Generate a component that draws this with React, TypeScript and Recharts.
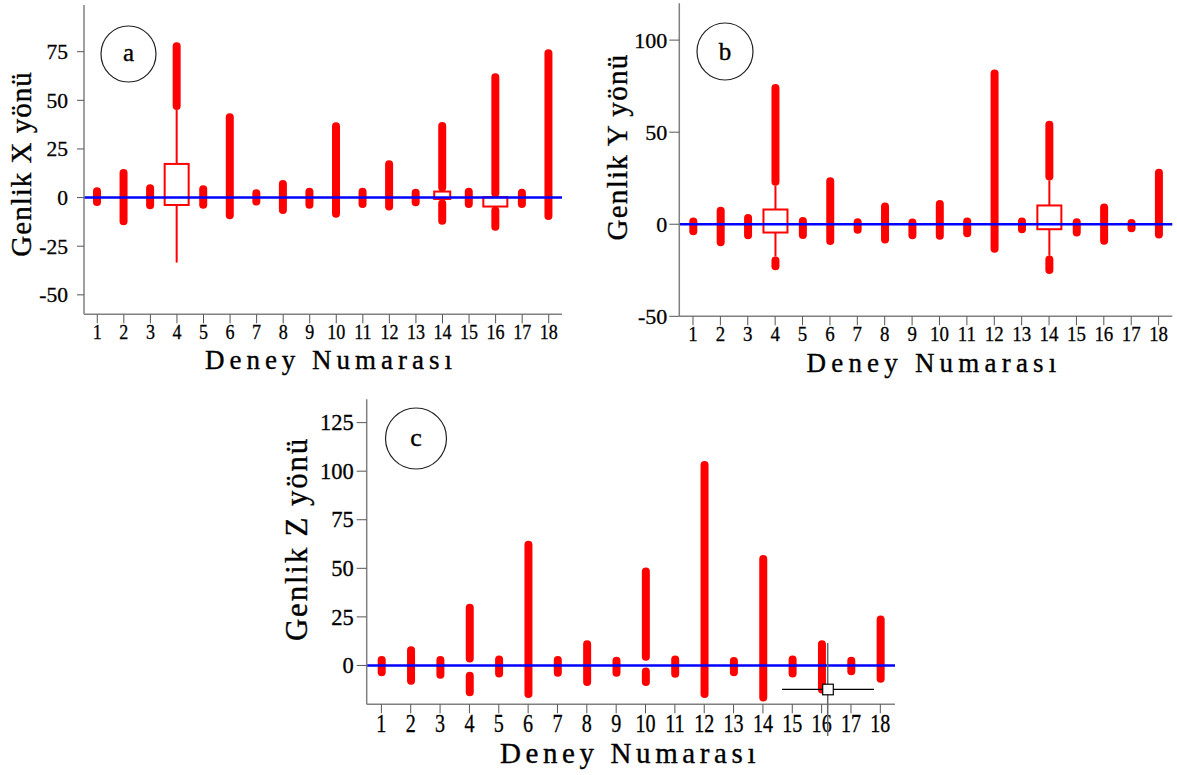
import React from 'react';
import { ComposedChart, Bar, XAxis, YAxis, ReferenceLine } from 'recharts';

type R = [number, number] | null;

const categories = ['1', '2', '3', '4', '5', '6', '7', '8', '9', '10', '11', '12', '13', '14', '15', '16', '17', '18'];

// Panel a: Genlik X yönü
const aThick: R[] = [[-4.3, 5.3], [-14.2, 14.7], [-6, 6.8], [45, 79.8], [-5.7, 6.3], [-11.1, 43.3], [-4.1, 4.3], [-8.4, 9.1], [-5.8, 5.1], [-10.4, 38.7], [-5.3, 5], [-6.7, 19.2], [-4.5, 4.6], [3.1, 38.9], [-5.3, 5.1], [0.2, 63.9], [-5.3, 4.6], [-11.5, 76.2]];
const aLower: R[] = [null, null, null, null, null, null, null, null, null, null, null, null, null, [-14, -1], null, [-17, -4.6], null, null];
const aWhisker: R[] = [null, null, null, [-33.4, 45], null, null, null, null, null, null, null, null, null, null, null, null, null, null];
const aBox: R[] = [null, null, null, [-3.8, 17.3], null, null, null, null, null, null, null, null, null, null, null, [-4.6, 0.2], null, null];
const aBoxNarrow: R[] = [null, null, null, null, null, null, null, null, null, null, null, null, null, [-0.7, 3.1], null, null, null, null];
const aTicks = [-50, -25, 0, 25, 50, 75];

// Panel b: Genlik Y yönü
const bThick: R[] = [[-6, 3.6], [-12, 9.5], [-8.2, 5.5], [20.9, 76.2], [-8, 4], [-11.3, 25.5], [-5.1, 3.3], [-10.4, 11.8], [-8.2, 3.1], [-8.4, 13.1], [-7.1, 3.6], [-15.5, 84], [-4.9, 3.6], [23.8, 56.2], [-6.7, 3.3], [-11.1, 11.3], [-4.4, 2.9], [-7.8, 30.2]];
const bLower: R[] = [null, null, null, [-25, -17.5], null, null, null, null, null, null, null, null, null, [-27, -17], null, null, null, null];
const bWhisker: R[] = [null, null, null, [-17.5, 20.9], null, null, null, null, null, null, null, null, null, [-17, 23.8], null, null, null, null];
const bBox: R[] = [null, null, null, [-4.5, 8], null, null, null, null, null, null, null, null, null, [-2.7, 10.2], null, null, null, null];
const bTicks = [-50, 0, 50, 100];

// Panel c: Genlik Z yönü
const cThick: R[] = [[-5.5, 4.8], [-9.9, 9.9], [-6.9, 4.8], [1.5, 31.7], [-6.2, 5.1], [-16.8, 64.2], [-5.8, 4.8], [-10.6, 13], [-5.8, 4.5], [2.4, 50.4], [-6.3, 5.1], [-16.8, 105.3], [-5.5, 4.3], [-18.5, 56.8], [-6.2, 5.1], [-14.4, 13], [-5.1, 4.5], [-8.9, 25.7]];
const cLower: R[] = [null, null, null, [-15.8, -3.3], null, null, null, null, null, [-10.6, -1], null, null, null, null, null, null, null, null];
const cTicks = [0, 25, 50, 75, 100, 125];

const RED = '#ff0000';
const FONT = 'Liberation Serif';

const build = (thick: R[], lower: R[], whisker: R[], box: R[], boxN: R[]) =>
  categories.map((n, i) => ({
    n,
    thick: thick[i] ?? undefined,
    lower: lower[i] ?? undefined,
    whisker: whisker[i] ?? undefined,
    box: box[i] ?? undefined,
    boxN: boxN[i] ?? undefined,
  }));

const none: R[] = categories.map(() => null);

const Pill = (p: any) => {
  const { x, y, width, height } = p;
  if (x == null || !height) return null;
  const h = Math.abs(height);
  const top = height < 0 ? y + height : y;
  return <rect x={x} y={top} width={width} height={h} rx={width / 2} ry={Math.min(width / 2, h / 2)} fill={RED} />;
};

const BoxShape = (p: any) => {
  const { x, y, width, height } = p;
  if (x == null || !height) return null;
  const h = Math.abs(height);
  const top = height < 0 ? y + height : y;
  return <rect x={x} y={top} width={width} height={h} fill="#ffffff" stroke={RED} strokeWidth={2} />;
};

const Line = (p: any) => {
  const { x, y, width, height } = p;
  if (x == null || !height) return null;
  const h = Math.abs(height);
  const top = height < 0 ? y + height : y;
  return <rect x={x} y={top} width={width} height={h} fill={RED} />;
};

const makeTick = (fontSize: number, axis: 'x' | 'y', sx: number) => (props: any) => {
  const { x, y, payload } = props;
  return (
    <g transform={`translate(${x},${y}) scale(${sx},1)`}>
      <text
        x={0}
        y={0}
        dy={axis === 'x' ? '0.72em' : '0.34em'}
        textAnchor={axis === 'x' ? 'middle' : 'end'}
        fill="#000000"
        stroke="#000000"
        strokeWidth={0.3}
        fontSize={fontSize}
        fontFamily={FONT}
      >
        {payload.value}
      </text>
    </g>
  );
};

type PanelProps = {
  data: any[];
  domain: [number, number];
  ticks: number[];
  left: number;
  top: number;
  width: number;
  height: number;
  margin: { top: number; right: number; bottom: number; left: number };
  yWidth: number;
  xFont: number;
  xScale: number;
  yFont: number;
  yTickSize: number;
  yTickMargin: number;
  band: number;
};

const Panel = (p: PanelProps) => {
  const xa = { dataKey: 'n', type: 'category' as const, hide: true };
  return (
    <div style={{ position: 'absolute', left: p.left, top: p.top, fontFamily: FONT }}>
      <ComposedChart width={p.width} height={p.height} data={p.data} margin={p.margin}>
        <XAxis
          xAxisId={0}
          dataKey="n"
          type="category"
          height={40}
          interval={0}
          tickSize={9}
          tickMargin={1}
          axisLine={{ stroke: '#808080', strokeWidth: 1.5 }}
          tickLine={{ stroke: '#555555', strokeWidth: 1 }}
          tick={makeTick(p.xFont, 'x', p.xScale)}
        />
        <XAxis xAxisId="w" {...xa} />
        <XAxis xAxisId="b" {...xa} />
        <XAxis xAxisId="bn" {...xa} />
        <XAxis xAxisId="l" {...xa} />
        <YAxis
          type="number"
          domain={p.domain}
          ticks={p.ticks}
          allowDataOverflow
          width={p.yWidth}
          tickSize={p.yTickSize}
          tickMargin={p.yTickMargin}
          axisLine={{ stroke: '#808080', strokeWidth: 1.5 }}
          tickLine={{ stroke: '#555555', strokeWidth: 1 }}
          tick={makeTick(p.yFont, 'y', 1)}
        />
        <Bar xAxisId="w" dataKey="whisker" barSize={2} shape={Line} isAnimationActive={false} />
        <Bar xAxisId="b" dataKey="box" barSize={Math.round(p.band - 3)} shape={BoxShape} isAnimationActive={false} />
        <Bar xAxisId="bn" dataKey="boxN" barSize={16} shape={BoxShape} isAnimationActive={false} />
        <Bar xAxisId={0} dataKey="thick" barSize={8} shape={Pill} isAnimationActive={false} />
        <Bar xAxisId="l" dataKey="lower" barSize={8} shape={Pill} isAnimationActive={false} />
        <ReferenceLine xAxisId={0} y={0} stroke="#0000ff" strokeWidth={2.5} />
      </ComposedChart>
    </div>
  );
};

const aData = build(aThick, aLower, aWhisker, aBox, aBoxNarrow);
const bData = build(bThick, bLower, bWhisker, bBox, none);
const cData = build(cThick, cLower, none, none, none);

export default function App() {
  return (
    <div style={{ position: 'absolute', left: 0, top: 0, width: 1177, height: 775, background: '#ffffff', overflow: 'hidden', fontFamily: FONT }}>
      <Panel
        data={aData}
        domain={[-60, 99]}
        ticks={aTicks}
        left={0}
        top={0}
        width={580}
        height={380}
        margin={{ top: 5, right: 18, bottom: 25.7, left: 0 }}
        yWidth={84}
        xFont={20.5}
        xScale={0.88}
        yFont={21.5}
        yTickSize={7}
        yTickMargin={9}
        band={26.5}
      />
      <Panel
        data={bData}
        domain={[-50, 120]}
        ticks={bTicks}
        left={590}
        top={0}
        width={587}
        height={380}
        margin={{ top: 3.3, right: 4.7, bottom: 23.7, left: 0 }}
        yWidth={89.3}
        xFont={21}
        xScale={0.9}
        yFont={22}
        yTickSize={10}
        yTickMargin={2}
        band={27.4}
      />
      <Panel
        data={cData}
        domain={[-20, 137]}
        ticks={cTicks}
        left={270}
        top={390}
        width={640}
        height={385}
        margin={{ top: 9.3, right: 15, bottom: 30.7, left: 0 }}
        yWidth={96.7}
        xFont={24.5}
        xScale={0.82}
        yFont={22.5}
        yTickSize={10}
        yTickMargin={3}
        band={29.35}
      />
      <svg width={1177} height={775} style={{ position: 'absolute', left: 0, top: 0, pointerEvents: 'none' }}>
        <g fontFamily={FONT} fill="#000000" stroke="#000000" strokeWidth={0.35}>
          <text x={331} y={369} fontSize={27} letterSpacing={5} textAnchor="middle">Deney Numarası</text>
          <text x={934} y={371.5} fontSize={27} letterSpacing={5.2} textAnchor="middle">Deney Numarası</text>
          <text x={630} y={763} fontSize={29} letterSpacing={4.6} textAnchor="middle">Deney Numarası</text>
          <text transform="translate(31,164) rotate(-90)" fontSize={29} letterSpacing={1} textAnchor="middle">Genlik X yönü</text>
          <text transform="translate(627,147) rotate(-90)" fontSize={29} letterSpacing={1.3} textAnchor="middle">Genlik Y yönü</text>
          <text transform="translate(307,539) rotate(-90)" fontSize={31} letterSpacing={1.8} textAnchor="middle">Genlik Z yönü</text>
          <text x={128.5} y={61} fontSize={25} textAnchor="middle">a</text>
          <text x={725} y={60} fontSize={25} textAnchor="middle">b</text>
          <text x={416} y={446} fontSize={26} textAnchor="middle">c</text>
        </g>
        <ellipse cx={128.5} cy={54} rx={27.5} ry={28} fill="none" stroke="#222" strokeWidth={1.2} />
        <ellipse cx={725} cy={51.5} rx={28} ry={28.5} fill="none" stroke="#222" strokeWidth={1.2} />
        <ellipse cx={416} cy={438.5} rx={30.5} ry={30.5} fill="none" stroke="#222" strokeWidth={1.2} />
        <line x1={782} y1={689.3} x2={874} y2={689.3} stroke="#000" strokeWidth={1.2} />
        <line x1={827.7} y1={643} x2={827.7} y2={736} stroke="#666" strokeWidth={1.5} />
        <rect x={822.7} y={684.2} width={10.6} height={10.6} fill="#fff" stroke="#000" strokeWidth={1.2} />
      </svg>
    </div>
  );
}
